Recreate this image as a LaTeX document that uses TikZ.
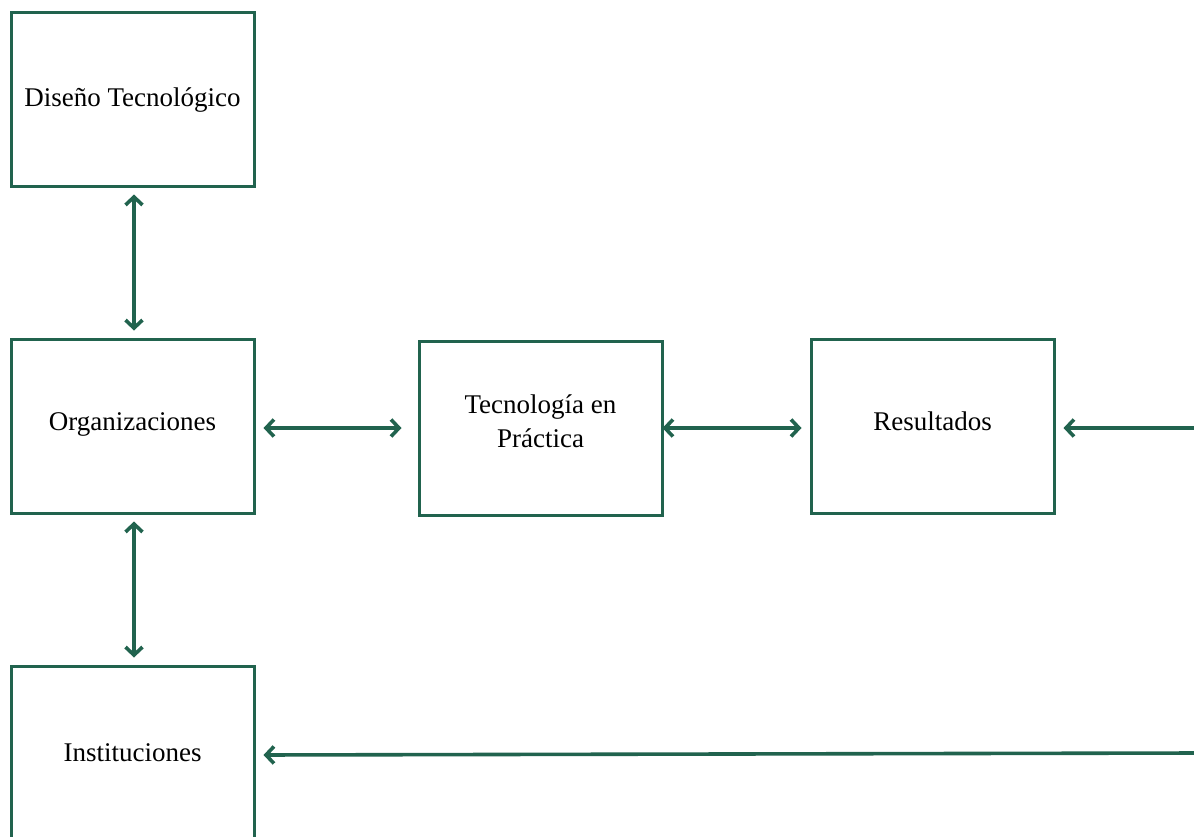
\documentclass[tikz,border=0pt]{standalone}
\usepackage{fontspec}
\setmainfont{Liberation Serif}
\usetikzlibrary{arrows.meta}
\definecolor{frame}{RGB}{33,99,78}
\tikzset{
  blk/.style={draw=frame, line width=3pt, minimum width=243pt, minimum height=174pt,
    inner sep=0pt},
  txt/.style={inner sep=0pt, align=center, font=\fontsize{27}{34}\selectfont},
  barb/.tip={Straight Barb[length=8pt,width=17pt,line width=3.6pt]},
  link/.style={draw=frame, line width=3.6pt, line cap=round, barb-barb},
  feed/.style={draw=frame, line width=3.6pt, line cap=round, -barb}
}
\begin{document}
\begin{tikzpicture}[x=1pt,y=-1pt]
\useasboundingbox (0,0) rectangle (1194,836);
\clip (0,0) rectangle (1194,836);
% boxes
\node[blk] (dis) at (132.5,99) {};
\node[blk] (org) at (132.5,426) {};
\node[blk] (tec) at (540.5,428) {};
\node[blk] (res) at (932.5,426) {};
\node[blk] (ins) at (132.5,753) {};
% box texts
\node[txt] (disT) at (132.5,100) {Diseño Tecnológico};
\node[txt] (orgT) at (132.5,424) {Organizaciones};
\node[txt] (tecT) at (540.5,421) {Tecnología en\\Práctica};
\node[txt] (resT) at (932.5,421) {Resultados};
\node[txt] (insT) at (132.5,753) {Instituciones};
% free ends at the right edge
\coordinate (rin) at (1197,428);
\coordinate (bin) at (1197,753);
% connectors
\draw[link, shorten <=7pt, shorten >=7pt] ([xshift=1.5pt]dis.south) -- ([xshift=1.5pt]org.north);
\draw[link, shorten <=7pt, shorten >=7pt] ([xshift=1.5pt]org.south) -- ([xshift=1.5pt]ins.north);
\draw[link, shorten <=8pt, shorten >=16pt] (org.east |- 0,428) -- (tec.west);
\draw[link, shorten <=-1pt, shorten >=8pt] (tec.east) -- (res.west |- 0,428);
\draw[feed, shorten >=8pt] (rin) -- (res.east |- 0,428);
\draw[feed, shorten >=8pt] (bin) -- (ins.east |- 0,755);
\end{tikzpicture}
\end{document}
